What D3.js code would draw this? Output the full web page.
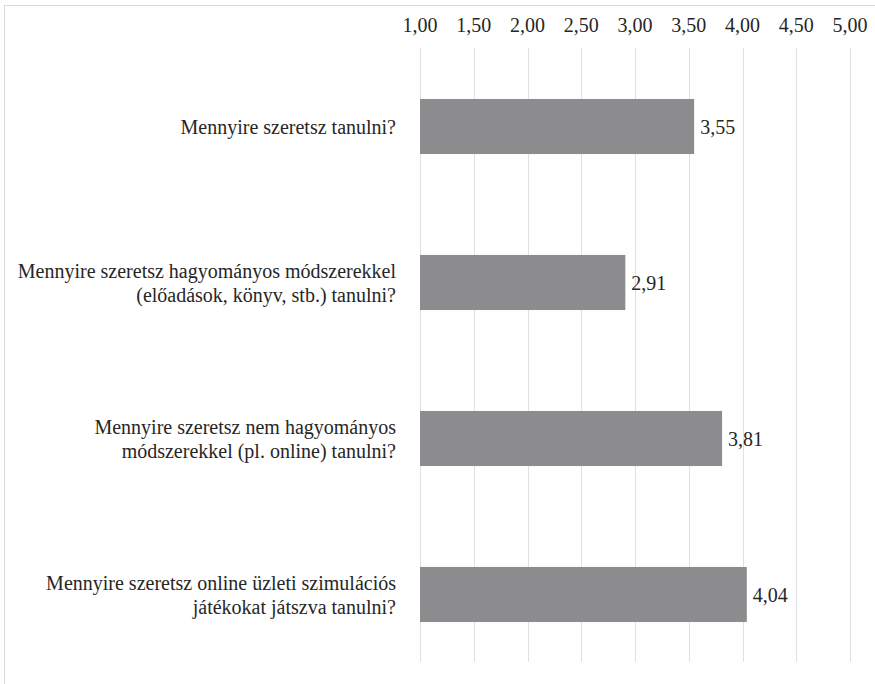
<!DOCTYPE html>
<html>
<head>
<meta charset="utf-8">
<script src="https://cdn.jsdelivr.net/npm/d3@7"></script>
</head>
<body style="margin:0">
<svg id="chart" width="875" height="684"></svg>
<script>
// data
const questions = [
	["Mennyire szeretsz tanulni?"],
	["Mennyire szeretsz hagyományos módszerekkel", "(előadások, könyv, stb.) tanulni?"],
	["Mennyire szeretsz nem hagyományos", "módszerekkel (pl. online) tanulni?"],
	["Mennyire szeretsz online üzleti szimulációs", "játékokat játszva tanulni?"]
];
const values = [3.55, 2.91, 3.81, 4.04];
const tickValues = [1, 1.5, 2, 2.5, 3, 3.5, 4, 4.5, 5];

const font = "'Liberation Serif', monospace";
const fmt = (v) => d3.format(".2f")(v).replace(".", ",");

const svg = d3.select("#chart");

// outer frame (right and bottom edges fall outside the picture)
svg.append("rect")
	.attr("x", 4.5).attr("y", 5.5)
	.attr("width", 880).attr("height", 690)
	.attr("fill", "none")
	.attr("stroke", "#d9d9d9");

let xScale = d3.scaleLinear().domain([1, 5]).range([420, 850]);
let yScale = d3.scaleBand()
	.domain(d3.range(questions.length))
	.range([48.5, 672.5])
	.paddingInner(0.647)
	.paddingOuter(0.3235);

// gridlines
svg.append("g")
	.selectAll("line")
	.data(tickValues)
	.join("line")
	.attr("x1", (d) => Math.round(xScale(d)) + 0.5)
	.attr("x2", (d) => Math.round(xScale(d)) + 0.5)
	.attr("y1", 48)
	.attr("y2", 662)
	.attr("stroke", "#e0e0e0")
	.attr("stroke-width", 1);

// top axis labels (own text, so the font is not taken from the axis group)
svg.selectAll("text.tick-label")
	.data(tickValues)
	.join("text")
	.attr("class", "tick-label")
	.attr("x", (d) => xScale(d))
	.attr("y", 32)
	.attr("text-anchor", "middle")
	.attr("font-size", 20)
	.attr("fill", "#262626")
	.style("font-family", font)
	.text(fmt);

// bars
svg.append("g")
	.selectAll("rect")
	.data(values)
	.join("rect")
	.attr("x", xScale(1))
	.attr("y", (d, i) => yScale(i))
	.attr("width", (d) => xScale(d) - xScale(1))
	.attr("height", yScale.bandwidth())
	.attr("fill", "#8c8c8f");

// value labels
svg.selectAll("text.value")
	.data(values)
	.join("text")
	.attr("class", "value")
	.attr("x", (d) => xScale(d) + 6)
	.attr("y", (d, i) => yScale(i) + yScale.bandwidth() / 2 + 7)
	.attr("font-size", 20)
	.attr("fill", "#262626")
	.style("font-family", font)
	.text(fmt);

// category labels, one text per line
let lines = [];
questions.forEach((q, i) => {
	q.forEach((line, j) => lines.push({ line, i, off: (j - (q.length - 1) / 2) * 24 }));
});
svg.selectAll("text.cat")
	.data(lines)
	.join("text")
	.attr("class", "cat")
	.attr("x", 396)
	.attr("y", (d) => yScale(d.i) + yScale.bandwidth() / 2 + 7 + d.off)
	.attr("text-anchor", "end")
	.attr("font-size", 20)
	.attr("fill", "#262626")
	.style("font-family", font)
	.text((d) => d.line);
</script>
</body>
</html>
